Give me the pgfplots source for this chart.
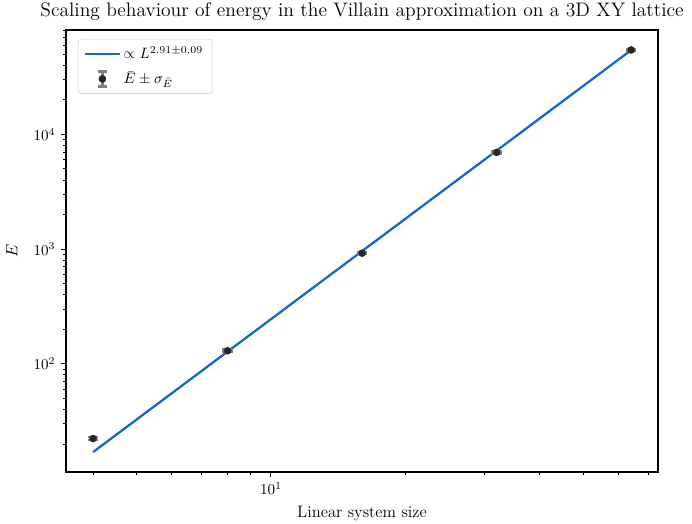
\documentclass[border=0pt]{standalone}
\usepackage{pgfplots}
\pgfplotsset{compat=1.18}
\definecolor{fitblue}{RGB}{16,103,204}
\begin{document}
\begin{tikzpicture}
\begin{axis}[name=ax,
  scale only axis, width=393.6pt, height=293.9pt,
  xmode=log, ymode=log,
  xmin=3.48, xmax=73.5, ymin=11.4, ymax=81500,
  tick align=outside, xtick pos=bottom, ytick pos=left,
  xtick={10}, ytick={100,1000,10000},
  minor xtick={4,5,6,7,8,9,20,30,40,50,60,70},
  minor ytick={20,30,40,50,60,70,80,90,200,300,400,500,600,700,800,900,2000,3000,4000,5000,6000,7000,8000,9000,20000,30000,40000,50000,60000,70000,80000},
  major tick length=3.5pt, minor tick length=2pt,
  every tick/.style={black, line width=0.6pt},
  axis line style={line width=0.8pt},
  title={Scaling behaviour of energy in the Villain approximation on a 3D XY lattice},
  title style={font=\fontsize{13}{15.6}\selectfont, yshift=-3pt},
  xlabel={Linear system size},
  ylabel={$E$},
  xlabel style={font=\fontsize{11}{13}\selectfont, yshift=-1pt},
  ylabel style={font=\fontsize{11}{13}\selectfont, yshift=4pt},
  legend style={at={(0.02,0.98)}, anchor=north west, draw=gray!40, rounded corners=2pt, font=\normalsize, row sep=3pt, inner xsep=4pt, inner ysep=3pt},
  legend cell align=left,
]
\addplot[fitblue, line width=1.5pt, legend image code/.code={\draw[fitblue, line width=1.5pt] (0cm,0cm) -- (0.8cm,0cm);}] coordinates {(4,17.0) (64,54300)};
\addlegendentry{$\propto L^{2.91\pm0.09}$}
\addplot[only marks, mark=*, mark size=2.3pt, black!85,
  legend image code/.code={
    \draw[gray, line width=1.5pt] (0.4cm,-5pt) -- (0.4cm,5pt);
    \draw[gray, line width=1.5pt] (0.4cm-3pt,-5pt) -- (0.4cm+3pt,-5pt);
    \draw[gray, line width=1.5pt] (0.4cm-3pt,5pt) -- (0.4cm+3pt,5pt);
    \fill[black!85] (0.4cm,0pt) circle (2.3pt);
  },
  error bars/.cd, y dir=both, y explicit,
  error bar style={gray, line width=1.5pt},
  error mark options={rotate=90, mark size=3.5pt, gray, line width=1.5pt},
  ] table[x index=0, y index=1, y error index=2] {
4 22.3 0.6
8 130 3
16 921 20
32 6970 150
64 54500 1100
};
\addlegendentry{$\bar{E}\pm\sigma_{\bar{E}}$}
\end{axis}
\pgfresetboundingbox
\path[use as bounding box] ([xshift=-43.9pt,yshift=-34.6pt]ax.south west) rectangle ([xshift=22.6pt,yshift=19.9pt]ax.north east);
\end{tikzpicture}
\end{document}
